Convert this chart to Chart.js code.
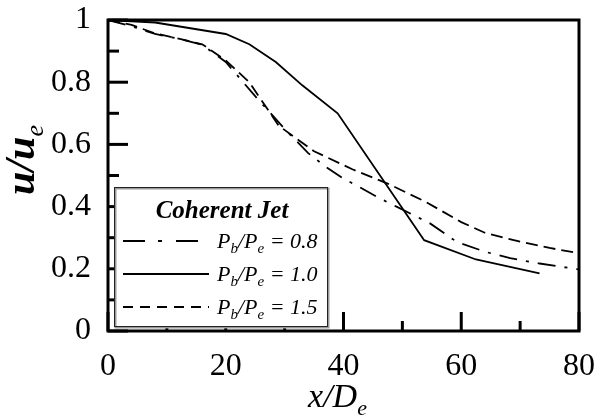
<!DOCTYPE html>
<html>
<head>
<meta charset="utf-8">
<script src="https://cdn.jsdelivr.net/npm/chart.js@4"></script>
<style>
  html, body { margin: 0; background: #fff; }
  #wrap { width: 597px; height: 418px; position: relative; }
</style>
</head>
<body>
<div id="wrap"><canvas id="chart"></canvas></div>
<script>
// Coherent jet centreline velocity decay, u/u_e against x/D_e

const xTicks = [0, 20, 40, 60, 80];
const xMinorTicks = [10, 30, 50, 70];
const yTicks = [0, 0.2, 0.4, 0.6, 0.8, 1];
const yMinorTicks = [0.1, 0.3, 0.5, 0.7, 0.9];

// Pb/Pe = 0.8 (dash-dot)
const x08 = [0, 4, 8, 12, 16, 20, 25, 30, 34, 37, 40, 43, 46, 49, 54.7, 59.2, 64, 68.3, 73.3, 80];
const y08 = [1.0, 0.98, 0.955, 0.94, 0.92, 0.865, 0.755, 0.65, 0.572, 0.528, 0.49, 0.46, 0.428, 0.40, 0.346, 0.287, 0.255, 0.234, 0.217, 0.198];

// Pb/Pe = 1.0 (solid)
const x10 = [0, 8, 20, 24, 28.5, 33, 39, 53.7, 62.5, 73.3];
const y10 = [1.0, 0.992, 0.955, 0.922, 0.865, 0.79, 0.70, 0.292, 0.23, 0.185];

// Pb/Pe = 1.5 (dashed)
const x15 = [0, 4, 8, 12, 16, 20, 24, 29, 35, 41.5, 47.5, 54, 60, 64, 70, 75, 80];
const y15 = [1.0, 0.984, 0.957, 0.94, 0.922, 0.87, 0.80, 0.66, 0.578, 0.52, 0.474, 0.415, 0.35, 0.316, 0.287, 0.267, 0.25];

const seriesLabels = ['0.8', '1.0', '1.5'];
const SERIF = '"Liberation Serif", "DejaVu Serif", serif';

function pts(xs, ys) {
    return xs.map((x, i) => ({ x: x, y: ys[i] }));
}

// draw a list of text runs, some of them as subscripts
function drawRuns(ctx, x, y, runs, font, subFont, subShift) {
    let cx = x;
    runs.forEach(r => {
        ctx.font = r.sub ? subFont : font;
        ctx.fillText(r.t, cx, r.sub ? y + subShift : y);
        cx += ctx.measureText(r.t).width;
    });
    return cx - x;
}

function runsWidth(ctx, runs, font, subFont) {
    let w = 0;
    runs.forEach(r => {
        ctx.font = r.sub ? subFont : font;
        w += ctx.measureText(r.t).width;
    });
    return w;
}

const framePlugin = {
    id: 'frame',
    afterDatasetsDraw(chart) {
        const { ctx, chartArea: a, scales: { x, y } } = chart;
        ctx.save();
        ctx.strokeStyle = '#000';
        ctx.lineCap = 'butt';

        // inward ticks on left and bottom
        ctx.lineWidth = 3;
        const tick = (x1, y1, x2, y2) => {
            ctx.beginPath(); ctx.moveTo(x1, y1); ctx.lineTo(x2, y2); ctx.stroke();
        };
        xTicks.forEach(v => { const p = x.getPixelForValue(v); tick(p, a.bottom, p, a.bottom - 19); });
        xMinorTicks.forEach(v => { const p = x.getPixelForValue(v); tick(p, a.bottom, p, a.bottom - 10); });
        yTicks.forEach(v => { const p = y.getPixelForValue(v); tick(a.left, p, a.left + 20, p); });
        yMinorTicks.forEach(v => { const p = y.getPixelForValue(v); tick(a.left, p, a.left + 11, p); });

        // frame
        ctx.lineWidth = 3;
        ctx.strokeRect(a.left, a.top, a.right - a.left, a.bottom - a.top);

        // legend box
        const lx = a.left + 7, ly = a.top + 168, lw = 213, lh = 139;
        ctx.fillStyle = '#fff';
        ctx.fillRect(lx, ly, lw, lh);
        ctx.strokeStyle = '#999';
        ctx.lineWidth = 2;
        ctx.strokeRect(lx + 0.5, ly + 0.5, lw, lh);
        ctx.strokeStyle = '#222';
        ctx.lineWidth = 1;
        ctx.strokeRect(lx - 0.5, ly - 0.5, lw, lh);

        ctx.fillStyle = '#000';
        ctx.textBaseline = 'alphabetic';
        ctx.font = 'italic bold 25px ' + SERIF;
        ctx.textAlign = 'center';
        ctx.fillText('Coherent Jet', lx + 107, ly + 30);
        ctx.textAlign = 'left';

        const legendDash = [[22, 13, 4, 14], [], [10, 7]];
        chart.data.datasets.forEach((ds, i) => {
            const yy = ly + 53 + i * 33;
            ctx.strokeStyle = '#000';
            ctx.lineWidth = 1.8;
            ctx.setLineDash(legendDash[i]);
            ctx.beginPath(); ctx.moveTo(lx + 8, yy); ctx.lineTo(lx + 94, yy); ctx.stroke();
            ctx.setLineDash([]);
            const runs = [
                { t: 'P' }, { t: 'b', sub: true }, { t: '/P' }, { t: 'e', sub: true },
                { t: ' = ' + seriesLabels[i] }
            ];
            drawRuns(ctx, lx + 102, yy + 7, runs, 'italic 22px ' + SERIF, 'italic 15px ' + SERIF, 5);
        });

        // axis titles
        const tFont = 'italic 34px ' + SERIF;
        const tSub = 'italic 22px ' + SERIF;
        const xRuns = [{ t: 'x/D' }, { t: 'e', sub: true }];
        const xw = runsWidth(ctx, xRuns, tFont, tSub);
        drawRuns(ctx, (a.left + a.right) / 2 - 6 - xw / 2, 407, xRuns, tFont, tSub, 8);

        const yFont = 'italic bold 42px ' + SERIF;
        const ySub = 'italic 26px ' + SERIF;
        const yRuns = [{ t: 'u/u' }, { t: 'e', sub: true }];
        const yw = runsWidth(ctx, yRuns, yFont, ySub);
        ctx.translate(34, 160);
        ctx.rotate(-Math.PI / 2);
        drawRuns(ctx, -yw / 2, 0, yRuns, yFont, ySub, 9);
        ctx.restore();
    }
};

const ctx = document.getElementById('chart').getContext('2d');

new Chart(ctx, {
    type: 'line',
    data: {
        datasets: [
            {
                label: 'Pb/Pe = 0.8',
                data: pts(x08, y08),
                borderColor: '#000',
                borderWidth: 1.8,
                borderDash: [18, 9, 3, 9],
                pointRadius: 0,
                tension: 0
            },
            {
                label: 'Pb/Pe = 1.0',
                data: pts(x10, y10),
                borderColor: '#000',
                borderWidth: 1.8,
                pointRadius: 0,
                tension: 0
            },
            {
                label: 'Pb/Pe = 1.5',
                data: pts(x15, y15),
                borderColor: '#000',
                borderWidth: 1.8,
                borderDash: [12, 6],
                pointRadius: 0,
                tension: 0
            }
        ]
    },
    options: {
        responsive: true,
        maintainAspectRatio: false,
        animation: false,
        layout: { padding: { top: 20, right: 18, left: 0, bottom: 0 } },
        plugins: {
            legend: { display: false },
            tooltip: { enabled: false }
        },
        scales: {
            x: {
                type: 'linear',
                min: 0,
                max: 80,
                afterBuildTicks: s => { s.ticks = xTicks.map(v => ({ value: v })); },
                afterFit: s => { s.height = 87; },
                grid: { display: false },
                border: { display: false },
                ticks: {
                    color: '#000',
                    padding: 0,
                    maxRotation: 0,
                    font: { family: SERIF, size: 32, lineHeight: 1.75 }
                }
            },
            y: {
                type: 'linear',
                min: 0,
                max: 1,
                afterBuildTicks: s => { s.ticks = yTicks.map(v => ({ value: v })); },
                afterFit: s => { s.width = 108; },
                grid: { display: false },
                border: { display: false },
                ticks: {
                    color: '#000',
                    padding: 9,
                    callback: v => String(+v.toFixed(1)),
                    font: { family: SERIF, size: 32, lineHeight: 0.65 }
                }
            }
        }
    },
    plugins: [framePlugin]
});
</script>
</body>
</html>
